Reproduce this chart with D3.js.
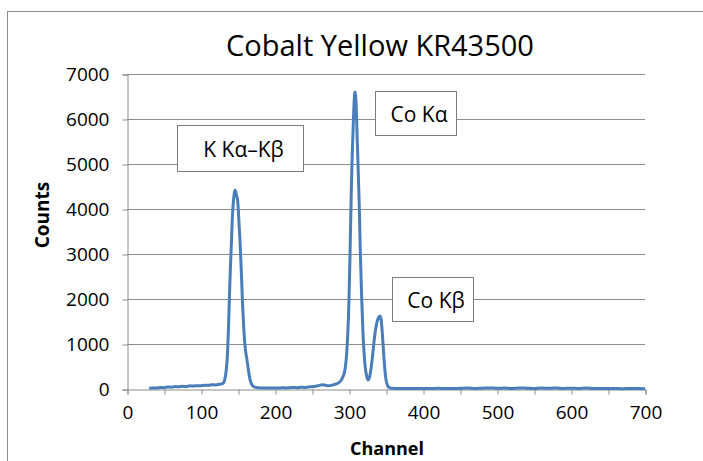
<!DOCTYPE html>
<html>
<head>
<meta charset="utf-8">
<script src="https://cdn.jsdelivr.net/npm/d3@7"></script>
<style>
  html, body { margin: 0; padding: 0; background: #fff; }
  svg { display: block; }
  text { font-family: "Open Sans", Lato, "DejaVu Sans", sans-serif; fill: #000; }
</style>
</head>
<body>
<svg id="chart" width="703" height="461"></svg>
<script>
// Spectrum: channel numbers and measured counts
const channels = [
  30, 35, 40, 45, 50, 55, 60, 65, 70, 75, 80, 85, 90, 95, 100, 105, 110, 115, 120, 125,
  128, 130, 132, 134, 136, 137, 138, 139, 140, 141, 142, 143, 144, 145, 146, 147, 148, 149,
  150, 151, 152, 153, 154, 155, 156, 157, 158, 159, 160, 162, 164, 166, 168, 170, 173, 176,
  180, 185, 190, 195, 200, 205, 210, 215, 220, 225, 230, 235, 240, 245, 250, 255, 260, 264,
  268, 272, 276, 280, 284, 287, 290, 292, 294, 296, 298, 300, 301, 302, 303, 304, 305, 306,
  307, 308, 309, 310, 311, 312, 313, 314, 315, 316, 317, 318, 319, 320, 321, 322, 324, 326,
  328, 330, 332, 334, 336, 338, 340, 341, 342, 343, 344, 346, 348, 350, 352, 355, 358, 362,
  370, 380, 390, 400, 410, 420, 430, 440, 450, 460, 470, 480, 490, 500, 510, 520, 530, 540,
  550, 560, 570, 580, 590, 600, 610, 620, 630, 640, 650, 660, 670, 680, 690, 700
];
const counts = [
  15, 25, 20, 35, 30, 45, 40, 55, 50, 60, 55, 70, 65, 75, 70, 85, 80, 95, 90, 105,
  115, 130, 200, 400, 850, 1300, 1800, 2350, 2800, 3200, 3650, 4000, 4200, 4350, 4420, 4380, 4300, 4250,
  4100, 3800, 3500, 3200, 2800, 2400, 1950, 1600, 1300, 1050, 880, 660, 430, 230, 120, 70, 40, 30,
  25, 20, 25, 20, 25, 20, 30, 25, 30, 35, 30, 40, 35, 45, 50, 60, 80, 95,
  85, 70, 80, 100, 120, 150, 210, 280, 380, 620, 1100, 2000, 2700, 3500, 4300, 5000, 5500, 6000,
  6400, 6600, 6500, 6150, 5600, 5100, 4550, 4000, 3250, 2650, 2100, 1650, 1200, 900, 650, 480, 280, 200,
  280, 480, 760, 1080, 1330, 1500, 1590, 1615, 1620, 1580, 1450, 1000, 520, 210, 80, 25, 15, 12,
  10, 12, 10, 12, 10, 15, 12, 10, 15, 20, 12, 18, 25, 15, 22, 12, 25, 18,
  12, 22, 15, 25, 12, 18, 10, 20, 12, 10, 12, 10, 8, 10, 10, 8
];
const xTicks = [0, 50, 100, 150, 200, 250, 300, 350, 400, 450, 500, 550, 600, 650, 700];
const xLabels = [0, 100, 200, 300, 400, 500, 600, 700];
const yTicks = [0, 1000, 2000, 3000, 4000, 5000, 6000, 7000];

// Peak annotations: text and the channel/count at each box centre
const notes = [
  { label: "K Kα–Kβ", ch: 152.7, ct: 5356, w: 126, h: 46 },
  { label: "Co Kα",  ch: 390,   ct: 6136, w: 81,  h: 44 },
  { label: "Co Kβ",  ch: 413,   ct: 2000, w: 81,  h: 44 }
];

const svg = d3.select("#chart");
const plot = { left: 127, right: 645, top: 74, bottom: 389 };
const gridColor = "#8c8c8c";
const tickFont = "'Open Sans', Lato, sans-serif";

const x = d3.scaleLinear().domain([0, 700]).range([plot.left, plot.right]);
const y = d3.scaleLinear().domain([0, 7000]).range([plot.bottom, plot.top]);

// Outer chart frame
svg.append("rect")
  .attr("x", 7.5).attr("y", 11.5)
  .attr("width", 760).attr("height", 520)
  .attr("fill", "none").attr("stroke", "#8a8a8a").attr("stroke-width", 1);

// Title
svg.append("text")
  .attr("x", 380).attr("y", 56)
  .attr("text-anchor", "middle")
  .attr("font-family", "Lato, 'Open Sans', sans-serif")
  .attr("font-size", 29)
  .text("Cobalt Yellow KR43500");

// Horizontal gridlines
svg.append("g").selectAll("line")
  .data(yTicks.filter(d => d > 0))
  .join("line")
  .attr("x1", plot.left).attr("x2", plot.right)
  .attr("y1", d => Math.round(y(d)) + 0.5).attr("y2", d => Math.round(y(d)) + 0.5)
  .attr("stroke", gridColor).attr("stroke-width", 1);

// Y axis
const yAxis = d3.axisLeft(y).tickValues(yTicks).tickSize(5).tickPadding(13).tickFormat(d3.format("d"));
const gy = svg.append("g").attr("transform", `translate(${plot.left + 0.5},0.5)`).call(yAxis);
gy.select(".domain").attr("stroke", gridColor);
gy.selectAll(".tick line").attr("stroke", gridColor);
gy.selectAll(".tick text").attr("font-size", 19).attr("font-family", tickFont).attr("fill", "#000");

// X axis: ticks every 50, labels every 100
const xAxis = d3.axisBottom(x).tickValues(xTicks).tickSize(5).tickPadding(11)
  .tickFormat(d => xLabels.includes(d) ? d : "");
const gx = svg.append("g").attr("transform", `translate(0.5,${plot.bottom + 0.5})`).call(xAxis);
gx.select(".domain").attr("stroke", gridColor);
gx.selectAll(".tick line").attr("stroke", gridColor);
gx.selectAll(".tick text").attr("font-size", 19).attr("font-family", tickFont).attr("fill", "#000");

// Axis titles
svg.append("text")
  .attr("x", 387).attr("y", 455)
  .attr("text-anchor", "middle")
  .attr("font-size", 18).attr("font-weight", "bold")
  .text("Channel");
svg.append("text")
  .attr("transform", "translate(49,215) rotate(-90)")
  .attr("text-anchor", "middle")
  .attr("font-size", 19).attr("font-weight", "bold")
  .text("Counts");

// Spectrum line
const data = channels.map((c, i) => ({ c, v: counts[i] }));
const line = d3.line().x(d => x(d.c)).y(d => y(d.v)).curve(d3.curveMonotoneX);
svg.append("path")
  .datum(data)
  .attr("d", line)
  .attr("fill", "none")
  .attr("stroke", "#4a7ebb")
  .attr("stroke-width", 3)
  .attr("stroke-linejoin", "round");

// Annotation boxes
const ng = svg.append("g").selectAll("g").data(notes).join("g")
  .attr("transform", d => `translate(${Math.round(x(d.ch) - d.w / 2) + 0.5},${Math.round(y(d.ct) - d.h / 2) + 0.5})`);
ng.append("rect")
  .attr("width", d => d.w).attr("height", d => d.h)
  .attr("fill", "#fff").attr("stroke", "#7f7f7f").attr("stroke-width", 1);
ng.append("text")
  .attr("x", d => d.w / 2 + 3).attr("y", d => d.h / 2 + 8)
  .attr("text-anchor", "middle")
  .attr("font-size", 21)
  .text(d => d.label);
</script>
</body>
</html>
